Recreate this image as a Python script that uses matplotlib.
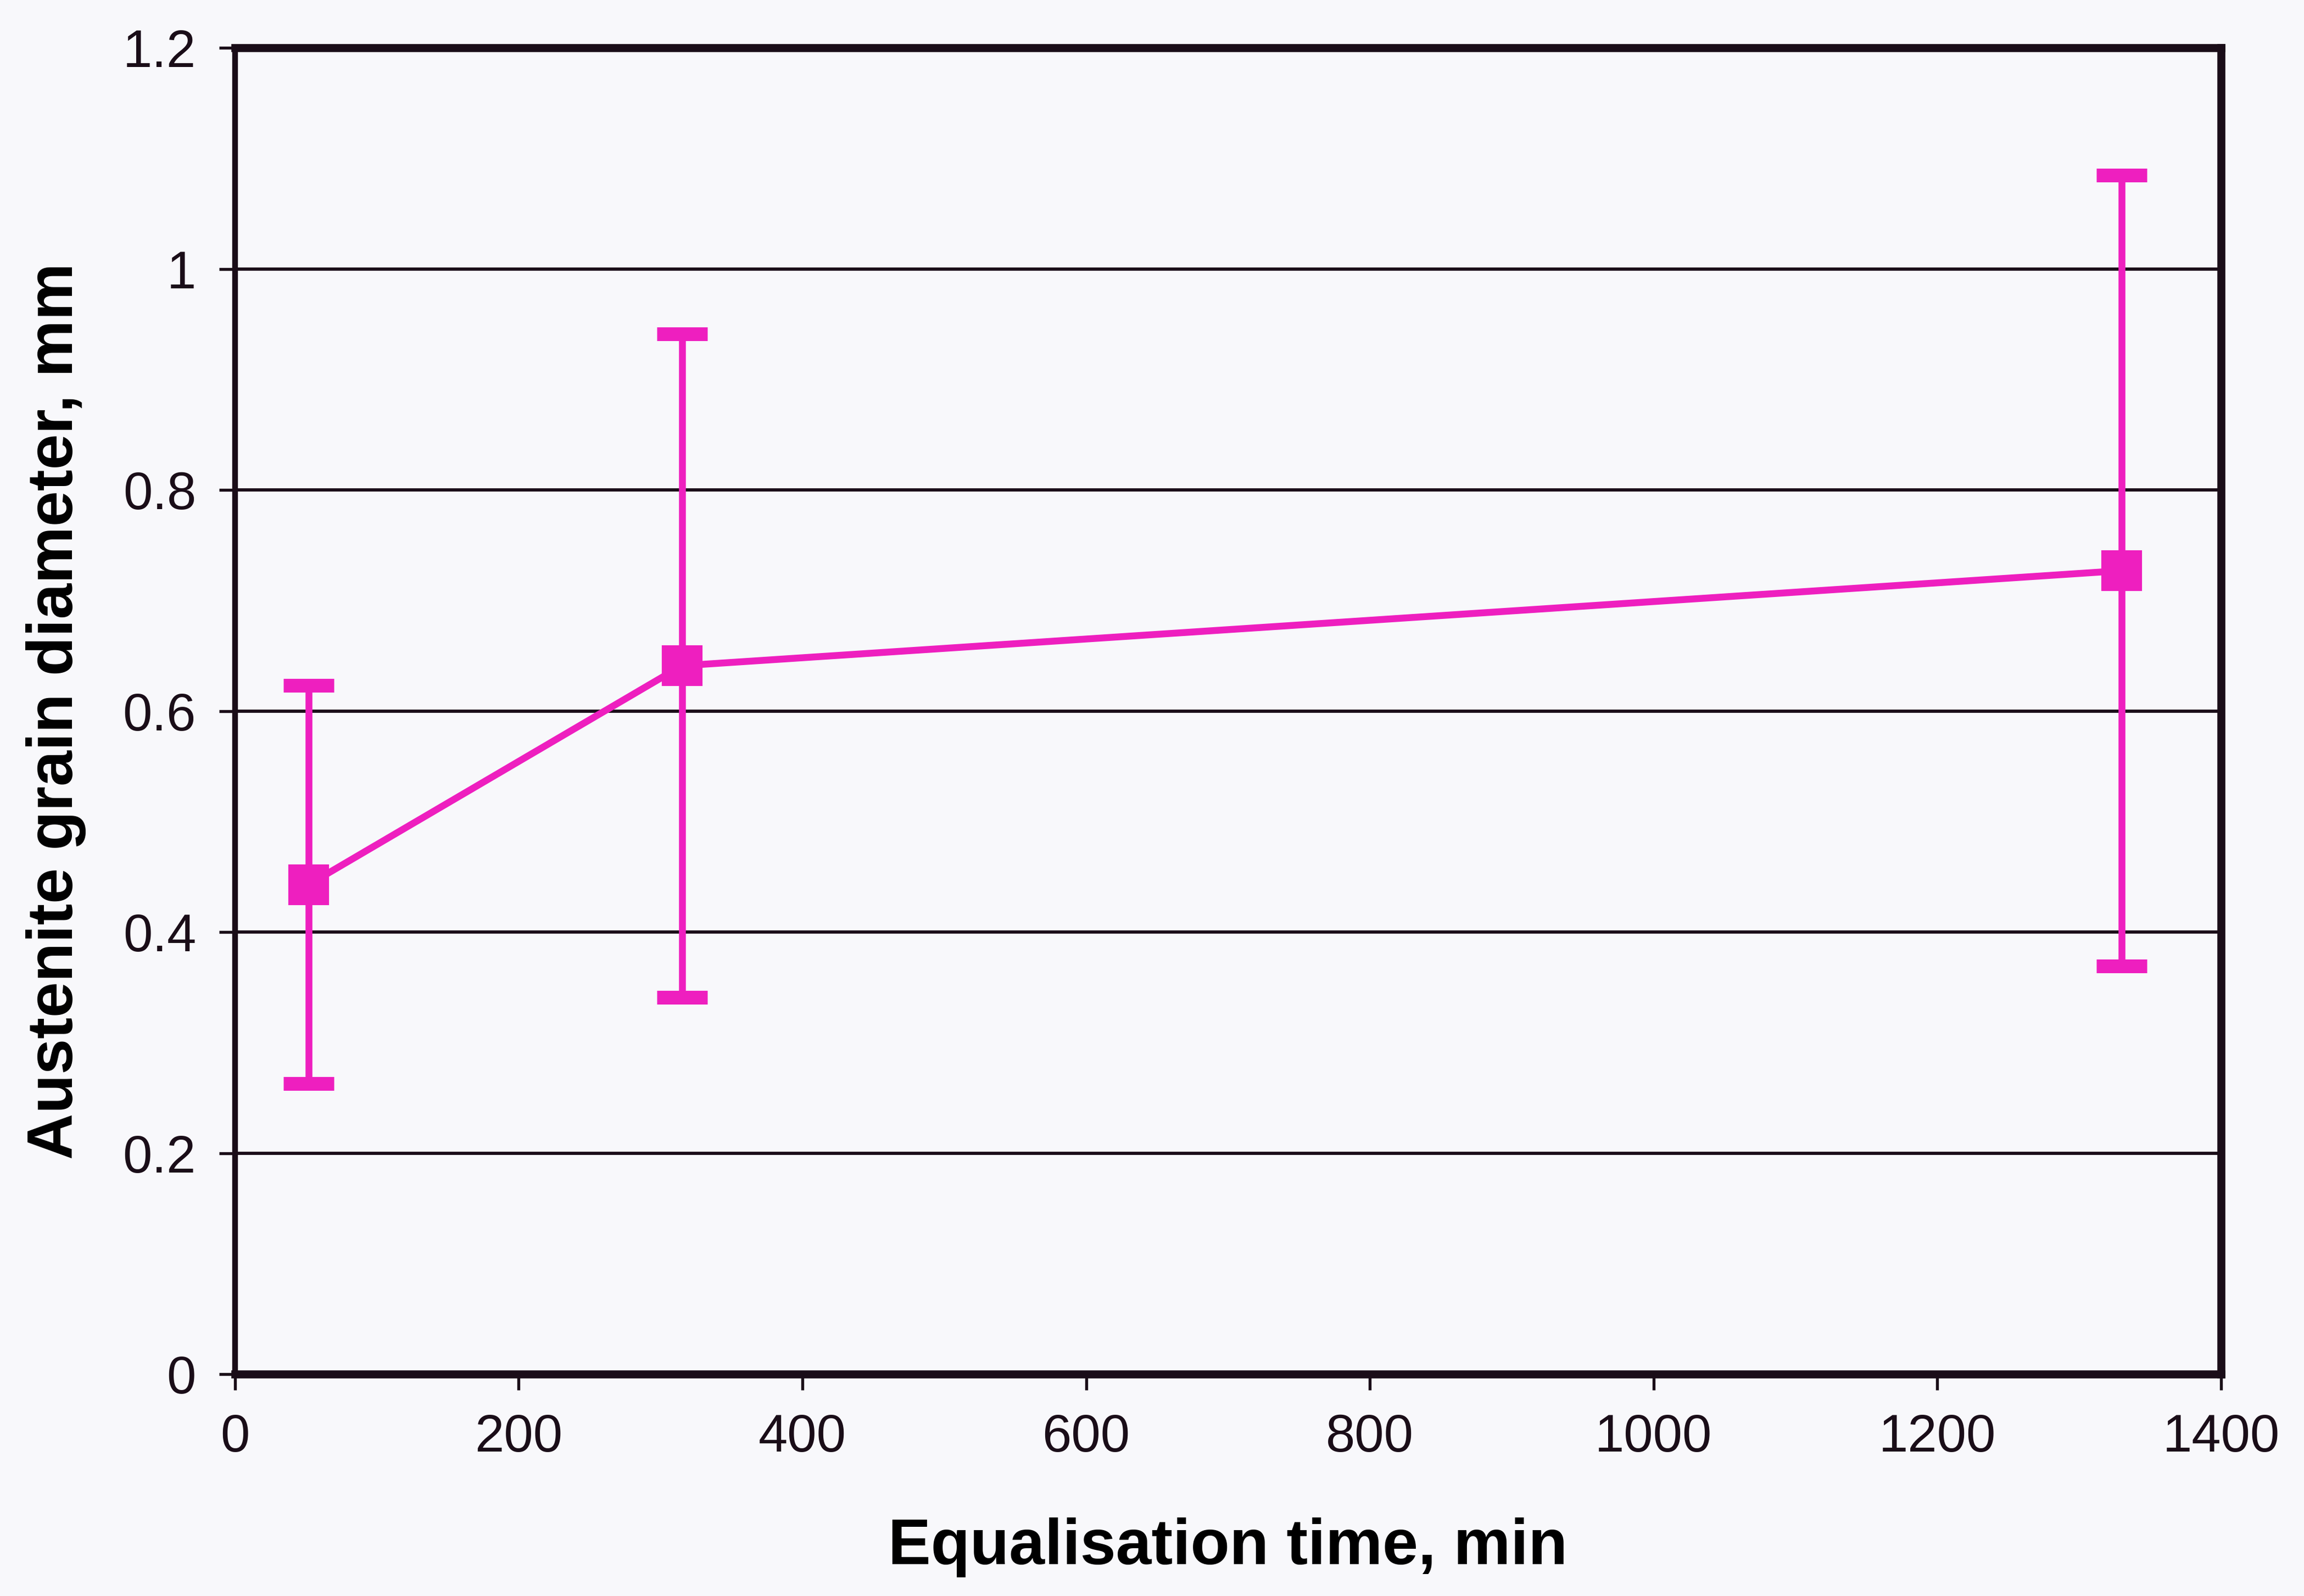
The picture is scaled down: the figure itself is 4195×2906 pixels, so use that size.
import matplotlib
matplotlib.use('Agg')
import matplotlib.pyplot as plt
import matplotlib.ticker as ticker

plt.rcParams['font.family'] = ['Liberation Sans', 'DejaVu Sans']

# equalisation time (min) vs austenite grain diameter (mm)
times = [52, 315, 1330]
diameters = [0.443, 0.641, 0.727]
errors = [0.18, 0.30, 0.358]

x_ticks = [0, 200, 400, 600, 800, 1000, 1200, 1400]
y_ticks = [0, 0.2, 0.4, 0.6, 0.8, 1.0, 1.2]

magenta = '#ee1fbf'
dark = '#1a0d18'

fig = plt.figure(figsize=(4195/300, 2906/300), dpi=300, facecolor='#f8f8fb')
ax = fig.add_axes([0.102, 0.139, 0.862, 0.831])
ax.set_facecolor('#f8f8fb')

for y in y_ticks[1:-1]:
    ax.axhline(y, color=dark, lw=1.4, zorder=1)

ax.errorbar(times, diameters, yerr=errors, color=magenta, lw=3,
            marker='s', markersize=17, elinewidth=3, capsize=11,
            capthick=6, zorder=3)

ax.set_xlim(0, 1400)
ax.set_ylim(0, 1.2)
ax.set_xticks(x_ticks)
ax.set_yticks(y_ticks)
ax.yaxis.set_major_formatter(ticker.FuncFormatter(lambda v, pos: f'{v:g}'))

for side in ['top', 'right', 'bottom']:
    ax.spines[side].set_linewidth(3.5)
    ax.spines[side].set_color(dark)
ax.spines['left'].set_linewidth(2.5)
ax.spines['left'].set_color(dark)

ax.tick_params(axis='both', labelsize=23, colors=dark, length=7, width=1.3, pad=10)

ax.set_xlabel('Equalisation time, min', fontsize=28, fontweight='bold', labelpad=24)
ax.set_ylabel('Austenite grain diameter, mm', fontsize=28, fontweight='bold', labelpad=16)

fig.savefig('out.png', dpi=300, facecolor=fig.get_facecolor())
